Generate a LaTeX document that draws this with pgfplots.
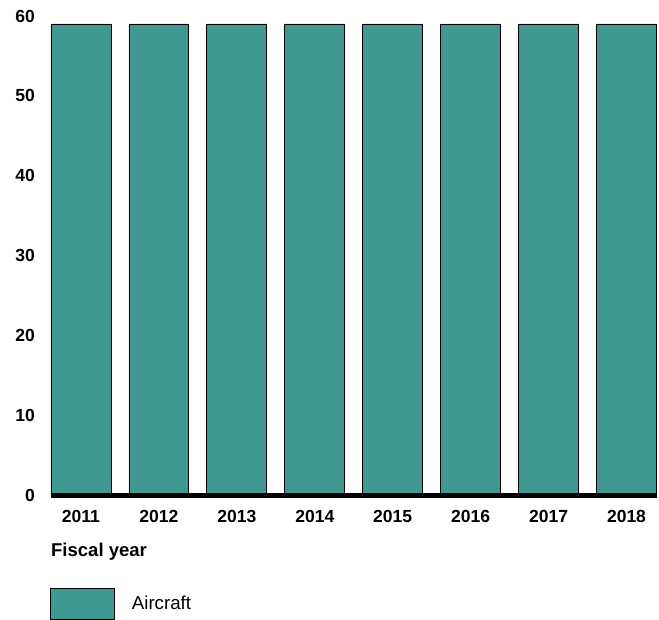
\documentclass[border=0pt]{standalone}
\usepackage{pgfplots}
\pgfplotsset{compat=1.18}
\usepackage{fontspec}
\setmainfont{Liberation Sans}
\definecolor{teal1}{HTML}{409990}
\begin{document}
\begin{tikzpicture}
\begin{axis}[
  scale only axis,
  clip=false,
  width=606bp, height=480bp,
  xmin=-0.385, xmax=7.385,
  ymin=0, ymax=60,
  ytick={0,10,20,30,40,50,60},
  xtick={0,1,2,3,4,5,6,7},
  xticklabels={2011,2012,2013,2014,2015,2016,2017,2018},
  /pgf/number format/assume math mode=true,
  ticklabel style={font=\bfseries\fontsize{17.6}{17.6}\selectfont},
  yticklabel style={inner sep=0pt, anchor=east, xshift=-16bp},
  xticklabel style={inner sep=0pt, anchor=north, yshift=-14.5bp},
  major tick length=0pt,
  tick style={draw=none},
  axis line style={draw=none},
  xlabel={Fiscal year},
  xlabel style={font=\bfseries\fontsize{18.6}{18.6}\selectfont, at={(axis description cs:0,-0.117)}, anchor=west, inner sep=0pt},
  legend style={draw=none, fill=none, at={(axis description cs:-0.0017,-0.225)}, anchor=west, inner sep=0pt,
    nodes={inner sep=0pt, font=\fontsize{18.8}{19}\selectfont},
    /tikz/every odd column/.append style={column sep=17bp}},
  legend image code/.code={\draw[#1] (0bp,-15.5bp) rectangle (64bp,15.5bp);},
]
\addplot[ybar, bar width=60bp, bar shift=0pt, fill=teal1, draw=black, line width=0.8bp]
  coordinates {(0,59) (1,59) (2,59) (3,59) (4,59) (5,59) (6,59) (7,59)};
\addlegendentry{Aircraft}
\draw[line width=5bp, black] (rel axis cs:0,0) -- (rel axis cs:1,0);
\end{axis}
\useasboundingbox (current axis.south west) ++(-51bp,-123bp) rectangle ++(659bp,619bp);
\end{tikzpicture}
\end{document}
